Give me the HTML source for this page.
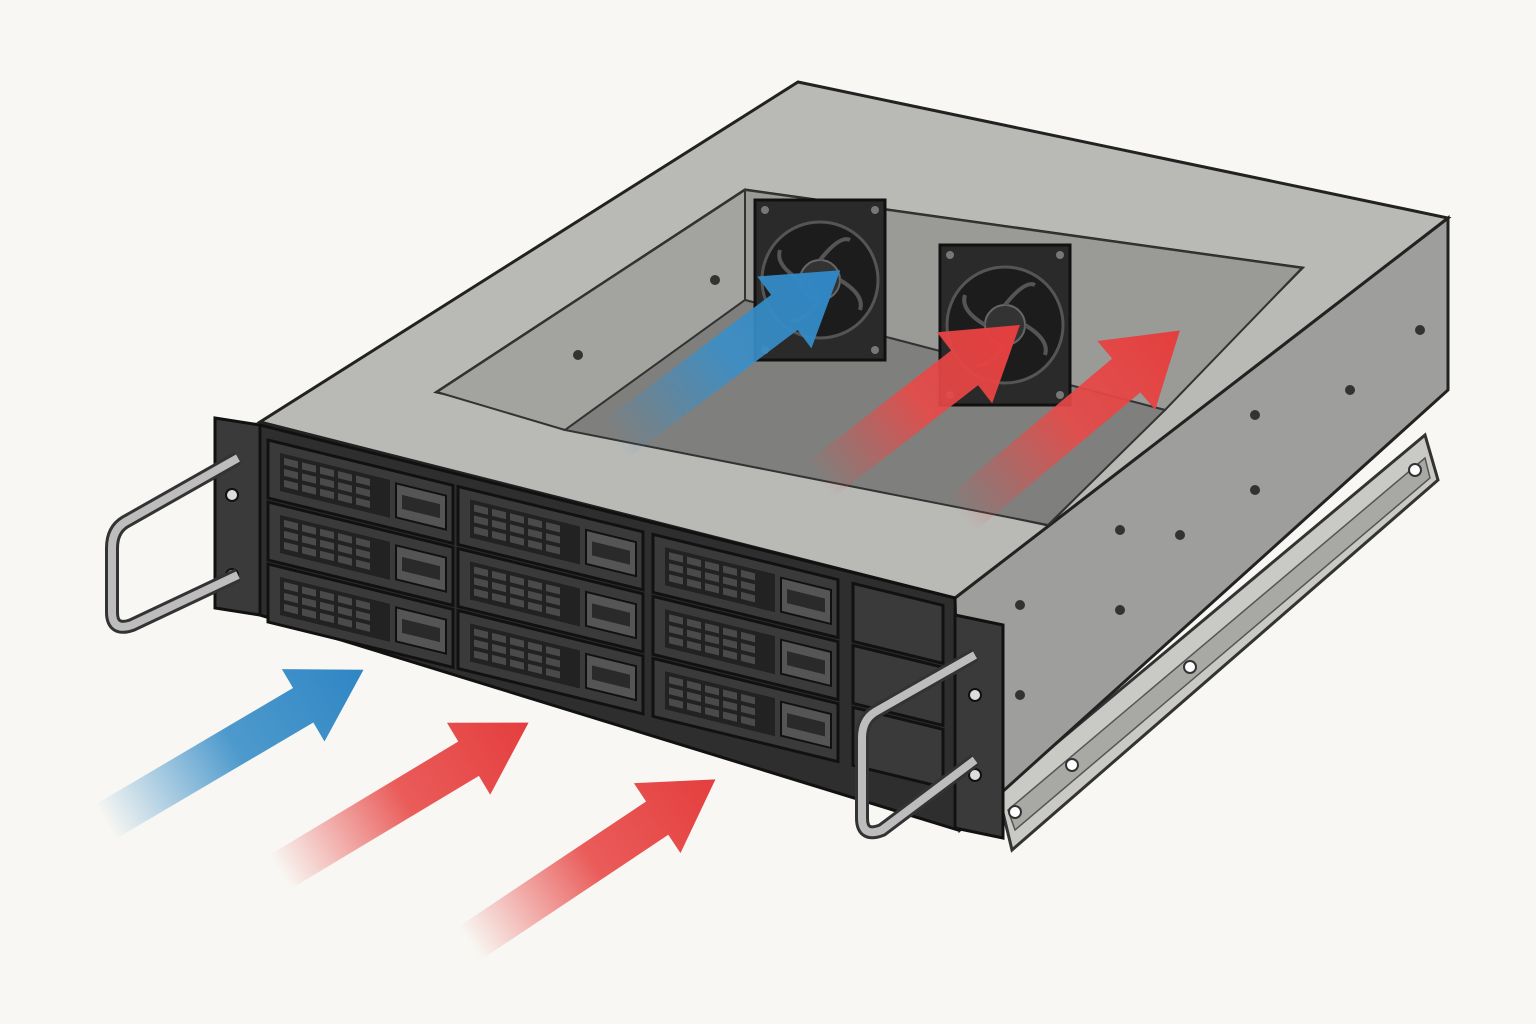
<!DOCTYPE html>
<html><head><meta charset="utf-8"><style>
html,body{margin:0;padding:0;background:#f8f7f3;}
svg{display:block}
</style></head><body>
<svg width="1536" height="1024" viewBox="0 0 1536 1024" xmlns="http://www.w3.org/2000/svg">
<defs>
<linearGradient id="gb" x1="0" y1="0" x2="1" y2="0"><stop offset="0" stop-color="#3a8fc8" stop-opacity="0"/><stop offset="0.5" stop-color="#3a8fc8" stop-opacity="0.9"/><stop offset="1" stop-color="#2f86c4"/></linearGradient>
<linearGradient id="gr" x1="0" y1="0" x2="1" y2="0"><stop offset="0" stop-color="#e84a48" stop-opacity="0"/><stop offset="0.5" stop-color="#e84a48" stop-opacity="0.9"/><stop offset="1" stop-color="#e43e3e"/></linearGradient>
<g id="bay">
 <rect x="0" y="0" width="185" height="58" fill="#3a3a3a" stroke="#111" stroke-width="3"/>
 <rect x="12" y="10" width="110" height="38" fill="#222"/>
 <g fill="#4a4a4a">
  <rect x="16" y="14" width="14" height="7"/><rect x="34" y="14" width="14" height="7"/><rect x="52" y="14" width="14" height="7"/><rect x="70" y="14" width="14" height="7"/><rect x="88" y="14" width="14" height="7"/>
  <rect x="16" y="25" width="14" height="7"/><rect x="34" y="25" width="14" height="7"/><rect x="52" y="25" width="14" height="7"/><rect x="70" y="25" width="14" height="7"/><rect x="88" y="25" width="14" height="7"/>
  <rect x="16" y="36" width="14" height="7"/><rect x="34" y="36" width="14" height="7"/><rect x="52" y="36" width="14" height="7"/><rect x="70" y="36" width="14" height="7"/><rect x="88" y="36" width="14" height="7"/>
 </g>
 <rect x="128" y="12" width="50" height="34" fill="#555" stroke="#111" stroke-width="2"/>
 <rect x="134" y="22" width="38" height="14" fill="#2a2a2a"/>
</g>
<g id="fan">
 <rect x="0" y="0" width="130" height="160" fill="#2a2a2a" stroke="#111" stroke-width="3"/>
 <circle cx="65" cy="80" r="58" fill="#1c1c1c" stroke="#555" stroke-width="3"/>
 <circle cx="65" cy="80" r="20" fill="#333" stroke="#666" stroke-width="2"/>
 <g stroke="#555" stroke-width="4" fill="none">
  <path d="M65 60 Q85 35 95 40"/><path d="M85 80 Q110 95 105 110"/><path d="M65 100 Q45 125 35 120"/><path d="M45 80 Q20 65 25 50"/>
 </g>
 <circle cx="10" cy="10" r="4" fill="#777"/><circle cx="120" cy="10" r="4" fill="#777"/><circle cx="10" cy="150" r="4" fill="#777"/><circle cx="120" cy="150" r="4" fill="#777"/>
</g>
</defs>
<rect width="1536" height="1024" fill="#f8f7f3"/>

<!-- rail -->
<polygon points="998,792 1425,435 1438,480 1012,850" fill="#c9c9c6" stroke="#333" stroke-width="3"/>
<polygon points="1008,810 1425,458 1430,478 1015,830" fill="#a8a8a5" stroke="#555" stroke-width="1.5"/>
<circle cx="1015" cy="812" r="6" fill="#fff" stroke="#333" stroke-width="2"/>
<circle cx="1072" cy="765" r="6" fill="#fff" stroke="#333" stroke-width="2"/>
<circle cx="1190" cy="667" r="6" fill="#fff" stroke="#333" stroke-width="2"/>
<circle cx="1415" cy="470" r="6" fill="#fff" stroke="#333" stroke-width="2"/>

<!-- right side -->
<polygon points="955,598 1448,218 1448,390 960,830" fill="#9e9e9c" stroke="#222" stroke-width="3"/>
<g fill="#333"><circle cx="1350" cy="390" r="5"/><circle cx="1255" cy="415" r="5"/><circle cx="1255" cy="490" r="5"/><circle cx="1120" cy="530" r="5"/><circle cx="1180" cy="535" r="5"/><circle cx="1120" cy="610" r="5"/><circle cx="1020" cy="605" r="5"/><circle cx="1020" cy="695" r="5"/><circle cx="1420" cy="330" r="5"/></g>

<!-- top -->
<polygon points="260,422 798,82 1448,218 955,598" fill="#b9b9b6" stroke="#222" stroke-width="3"/>
<polygon points="437,392 745,190 1302,268 1048,525" fill="#8a8a88" stroke="#222" stroke-width="3"/>
<polygon points="437,392 745,190 745,300 565,430" fill="#a3a3a0" stroke="#333" stroke-width="2"/>
<polygon points="745,190 1302,268 1165,410 745,300" fill="#9a9a97" stroke="#333" stroke-width="2"/>
<polygon points="565,430 745,300 1165,410 1048,525" fill="#7f7f7d" stroke="#333" stroke-width="2"/>
<circle cx="715" cy="280" r="5" fill="#333"/><circle cx="578" cy="355" r="5" fill="#333"/>
<use href="#fan" x="755" y="200"/>
<use href="#fan" x="940" y="245"/>
<g transform="translate(615,440) rotate(-37)"><polygon points="0,-22 212,-22 212,-45 282,0 212,45 212,22 0,22" fill="url(#gb)"/></g>
<g transform="translate(820,480) rotate(-37.8)"><polygon points="0,-22 183,-22 183,-45 253,0 183,45 183,22 0,22" fill="url(#gr)"/></g>
<g transform="translate(960,515) rotate(-40)"><polygon points="0,-22 217,-22 217,-45 287,0 217,45 217,22 0,22" fill="url(#gr)"/></g>

<!-- front -->
<polygon points="260,425 955,598 958,830 260,615" fill="#2e2e2e" stroke="#111" stroke-width="3"/>
<g transform="matrix(1,0.245,0,1,268,440)">
 <use href="#bay" x="0" y="0"/><use href="#bay" x="0" y="62"/><use href="#bay" x="0" y="124"/>
 <use href="#bay" x="190" y="0"/><use href="#bay" x="190" y="62"/><use href="#bay" x="190" y="124"/>
 <use href="#bay" x="385" y="0"/><use href="#bay" x="385" y="62"/><use href="#bay" x="385" y="124"/>
 <g><rect x="585" y="0" width="90" height="58" fill="#3a3a3a" stroke="#111" stroke-width="3"/><rect x="585" y="62" width="90" height="58" fill="#3a3a3a" stroke="#111" stroke-width="3"/><rect x="585" y="124" width="90" height="58" fill="#3a3a3a" stroke="#111" stroke-width="3"/></g>
</g>
<polygon points="215,418 260,425 260,615 215,608" fill="#3a3a3a" stroke="#111" stroke-width="3"/>
<circle cx="232" cy="495" r="6" fill="#ddd" stroke="#111" stroke-width="2"/><circle cx="232" cy="575" r="6" fill="#ddd" stroke="#111" stroke-width="2"/>
<polygon points="955,615 1003,625 1003,838 955,828" fill="#3a3a3a" stroke="#111" stroke-width="3"/>
<circle cx="975" cy="695" r="6" fill="#ddd" stroke="#111" stroke-width="2"/><circle cx="975" cy="775" r="6" fill="#ddd" stroke="#111" stroke-width="2"/>
<!-- handles -->
<path d="M238 458 L125 522 Q112 530 112 548 L112 612 Q112 632 132 625 L238 575" fill="none" stroke="#333" stroke-width="14" stroke-linejoin="round"/>
<path d="M238 458 L125 522 Q112 530 112 548 L112 612 Q112 632 132 625 L238 575" fill="none" stroke="#bdbdbd" stroke-width="8" stroke-linejoin="round"/>
<path d="M975 655 L875 712 Q862 720 862 738 L862 818 Q862 838 882 830 L975 760" fill="none" stroke="#333" stroke-width="14" stroke-linejoin="round"/>
<path d="M975 655 L875 712 Q862 720 862 738 L862 818 Q862 838 882 830 L975 760" fill="none" stroke="#bdbdbd" stroke-width="8" stroke-linejoin="round"/>

<g transform="translate(105,822) rotate(-30.5)"><polygon points="0,-20 230,-20 230,-42 300,0 230,42 230,20 0,20" fill="url(#gb)"/></g>
<g transform="translate(280,872) rotate(-31)"><polygon points="0,-20 220,-20 220,-42 290,0 220,42 220,20 0,20" fill="url(#gr)"/></g>
<g transform="translate(470,943) rotate(-33.7)"><polygon points="0,-20 225,-20 225,-42 295,0 225,42 225,20 0,20" fill="url(#gr)"/></g>
</svg>
</body></html>
